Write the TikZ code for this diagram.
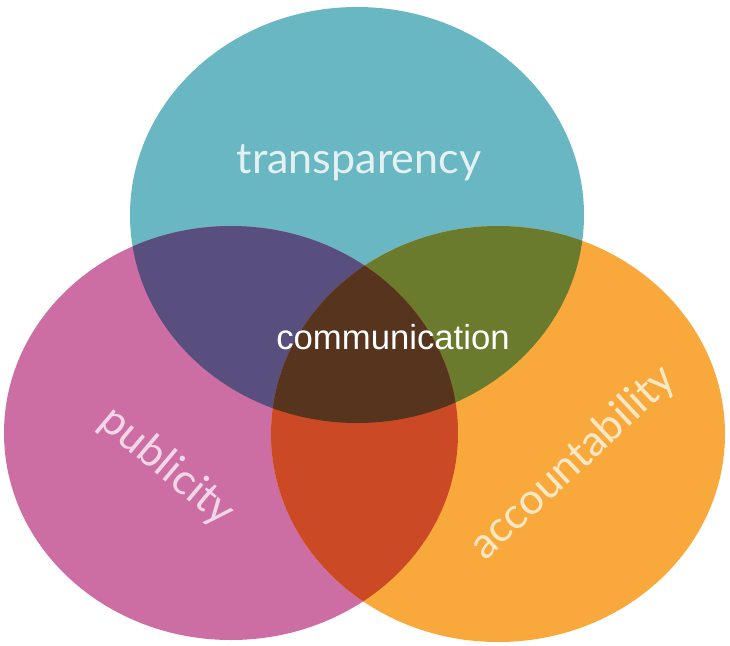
\documentclass[tikz,border=0pt]{standalone}
\usepackage{fontspec}
\newfontfamily\labelfont{Lato}
\newfontfamily\commfont{Liberation Sans}
\definecolor{cteal}{HTML}{6AB7C4}
\definecolor{cpink}{HTML}{CC6EA3}
\definecolor{corange}{HTML}{F9A93B}
\definecolor{cpurple}{HTML}{584F7F}
\definecolor{colive}{HTML}{6B7B2D}
\definecolor{cred}{HTML}{CB4A25}
\definecolor{cbrown}{HTML}{56341D}
\definecolor{tteal}{HTML}{E3F1F2}
\definecolor{tpink}{HTML}{F3D7E8}
\definecolor{torange}{HTML}{FBE8C6}
\tikzset{
  circlabel/.style={inner sep=0pt, font=\labelfont\fontsize{43}{50}\selectfont},
}
\begin{document}
\begin{tikzpicture}[x=1pt,y=-1pt]
\useasboundingbox (0,0) rectangle (730,645);
\def\teal{(357,215) ellipse [x radius=227pt, y radius=208pt]}
\def\pink{(231,433) ellipse [x radius=227pt, y radius=207pt]}
\def\orng{(498,434) ellipse [x radius=227pt, y radius=208pt]}
\fill[cteal] \teal;
\fill[cpink] \pink;
\fill[corange] \orng;
\begin{scope}
  \clip \teal;
  \fill[cpurple] \pink;
  \fill[colive] \orng;
\end{scope}
\begin{scope}
  \clip \pink;
  \fill[cred] \orng;
\end{scope}
\begin{scope}
  \clip \teal;
  \clip \pink;
  \fill[cbrown] \orng;
\end{scope}
\node[circlabel, text=tteal, anchor=base] (transp) at (359,173) {transparency};
\node[circlabel, text=tpink, rotate=-40] (publ) at (167,467) {publicity};
\node[circlabel, text=torange, rotate=43] (acct) at (573,463) {accountability};
\node[inner sep=0pt, text=white, anchor=base, font=\commfont\fontsize{34.7}{40}\selectfont] (comm) at (393,349) {communication};
\end{tikzpicture}
\end{document}
